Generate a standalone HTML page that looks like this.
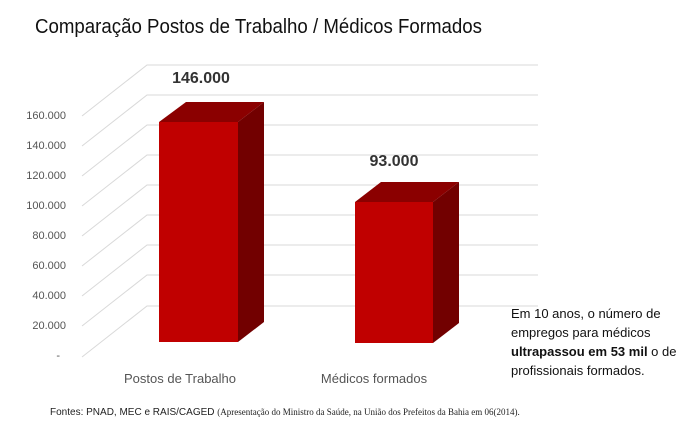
<!DOCTYPE html>
<html><head><meta charset="utf-8"><style>
html,body{margin:0;padding:0;background:#fff;}
svg{display:block;}
text{font-family:"Liberation Sans",sans-serif;}
</style></head><body>
<svg width="683" height="443" viewBox="0 0 683 443" xmlns="http://www.w3.org/2000/svg">
<rect width="683" height="443" fill="#fff"/>
<text x="35" y="33" font-size="20" fill="#111" textLength="447" lengthAdjust="spacingAndGlyphs">Comparação Postos de Trabalho / Médicos Formados</text>
<g stroke="#d9d9d9" stroke-width="1" fill="none">
<path d="M82 116 L147 65 H538"/>
<path d="M82 146 L147 95 H538"/>
<path d="M82 176 L147 125 H538"/>
<path d="M82 206 L147 155 H538"/>
<path d="M82 236 L147 185 H538"/>
<path d="M82 266 L147 215 H538"/>
<path d="M82 296 L147 245 H538"/>
<path d="M82 326 L147 275 H538"/>
<path d="M82 357 L147 306 H538"/>
</g>
<g font-size="11" fill="#555" text-anchor="end">
<text x="66" y="119">160.000</text>
<text x="66" y="149">140.000</text>
<text x="66" y="179">120.000</text>
<text x="66" y="209">100.000</text>
<text x="66" y="239">80.000</text>
<text x="66" y="269">60.000</text>
<text x="66" y="299">40.000</text>
<text x="66" y="329">20.000</text>
<text x="60" y="359">-</text>
</g>
<!-- bar 1 -->
<polygon points="159,122 186,102 264,102 238,122" fill="#8b0000"/>
<polygon points="238,122 264,102 264,322 238,342" fill="#720000"/>
<rect x="159" y="122" width="79" height="220" fill="#c00000"/>
<!-- bar 2 -->
<polygon points="355,202 381,182 459,182 433,202" fill="#8b0000"/>
<polygon points="433,202 459,182 459,323 433,343" fill="#720000"/>
<rect x="355" y="202" width="78" height="141" fill="#c00000"/>
<text x="201" y="83" font-size="16" font-weight="bold" fill="#333" text-anchor="middle">146.000</text>
<text x="394" y="166" font-size="16" font-weight="bold" fill="#333" text-anchor="middle">93.000</text>
<text x="180" y="383" font-size="13" fill="#555" text-anchor="middle">Postos de Trabalho</text>
<text x="374" y="383" font-size="13" fill="#555" text-anchor="middle">Médicos formados</text>
<g font-size="13" fill="#111">
<text x="511" y="318">Em 10  anos, o número de</text>
<text x="511" y="337">empregos para médicos</text>
<text x="511" y="356"><tspan font-weight="bold">ultrapassou em 53 mil</tspan> o de</text>
<text x="511" y="375">profissionais formados.</text>
</g>
<text x="50" y="415" font-size="10" fill="#222">Fontes: PNAD, MEC e RAIS/CAGED <tspan font-family="Liberation Serif, serif" font-size="9">(Apresentação do Ministro da Saúde, na União dos Prefeitos da Bahia em 06(2014).</tspan></text>
</svg>
</body></html>
